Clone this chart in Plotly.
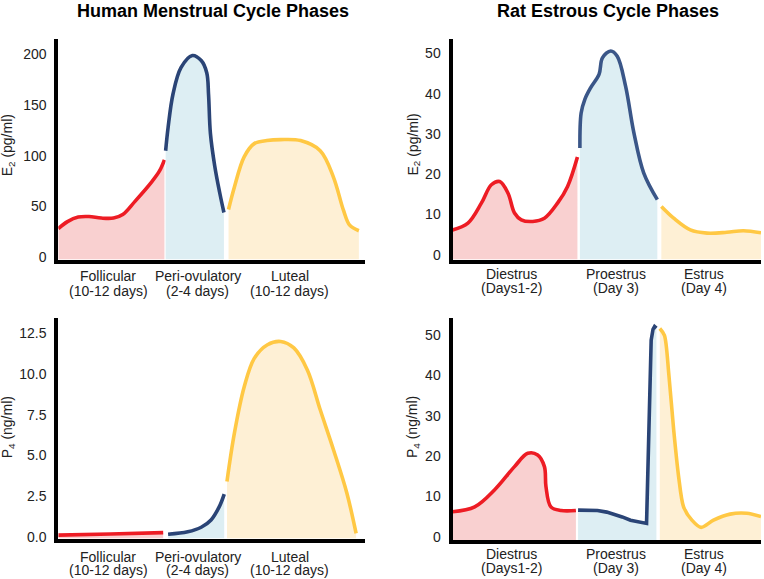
import plotly.graph_objects as go

# x values are position along the cycle, in % of the panel width
# human E2 (pg/ml)
hum_e2_fol_x = [0, 3, 6.5, 10, 14, 18, 21, 25, 30.4, 33, 34.6]
hum_e2_fol_y = [28, 35, 39.5, 40, 38.5, 38.5, 42, 55, 74, 85, 96]
hum_e2_peri_x = [35, 35.8, 37.4, 40, 43.7, 46.6, 48.4, 49.0, 49.6, 51.0, 52.6, 54.0]
hum_e2_peri_y = [105, 128, 161, 187, 199, 194, 182, 160, 122, 90, 64, 44]
hum_e2_lut_x = [55.5, 57.4, 60.6, 63.9, 68, 72.5, 79, 85.4, 89.7, 93, 95, 98]
hum_e2_lut_y = [47, 69, 99, 112, 115, 116, 115, 105, 79, 46, 31.5, 26]

# human P4 (ng/ml)
hum_p4_fol_x = [0, 17, 34.2]
hum_p4_fol_y = [0.1, 0.17, 0.25]
hum_p4_peri_x = [35.8, 42.2, 46.6, 49.8, 52.5, 54.1]
hum_p4_peri_y = [0.15, 0.3, 0.58, 1.03, 1.85, 2.62]
hum_p4_lut_x = [55, 57.4, 60.6, 63.9, 68.2, 72.5, 76.8, 81.2, 85.4, 89.8, 94.1, 97.1]
hum_p4_lut_y = [3.4, 6.35, 9.2, 10.96, 11.8, 12.0, 11.6, 10.25, 7.8, 5.3, 2.67, 0.2]

# rat E2 (pg/ml)
rat_e2_di_x = [0, 5, 9.4, 12.6, 15.3, 18, 20.1, 22.3, 26, 29.8, 34.1, 37.3, 40.5]
rat_e2_di_y = [6.2, 7.9, 12.9, 17.4, 18.2, 15.3, 10.4, 8.7, 8.3, 9.1, 12.9, 17, 24.3]
rat_e2_pro_x = [41.3, 41.7, 42.9, 44.8, 47.5, 48.6, 51.3, 53.4, 56.1, 58.8, 62, 66.4]
rat_e2_pro_y = [26.5, 35.2, 38.6, 41.5, 44.8, 48.9, 50.6, 49.3, 41.9, 30.3, 20.3, 13.7]
rat_e2_est_x = [67.7, 71.7, 77.1, 82.5, 88.9, 94.3, 100]
rat_e2_est_y = [12, 9.1, 6.2, 5.4, 5.6, 6, 5.5]

# rat P4 (ng/ml)
rat_p4_di_x = [0, 7.2, 13.6, 20.1, 24.4, 27.6, 29.8, 30.3, 31.9, 35.2, 40]
rat_p4_di_y = [6.2, 7.4, 11.6, 17.4, 20.7, 20.3, 17.4, 12.4, 7.4, 6.5, 6.5]
rat_p4_pro_x = [40.7, 44, 47, 50, 52.4, 55, 57.7, 60.3, 62.9, 64.4, 65.0, 65.5, 66.1]
rat_p4_pro_y = [6.6, 6.65, 6.5, 6.1, 5.6, 4.9, 4.1, 3.7, 3.3, 48.8, 51.5, 52.2, 51.8]
rat_p4_est_x = [67.2, 68.7, 70.1, 71.7, 73.3, 74.9, 77.6, 80.6, 84.6, 90, 95.4, 100]
rat_p4_est_y = [51.7, 50, 40.5, 26.5, 14.9, 7.4, 4.1, 2.3, 4.1, 5.6, 5.8, 5]

# phase labels and where they sit on the x axis
hum_phases = ["Follicular", "Peri-ovulatory", "Luteal"]
hum_days = ["(10-12 days)", "(2-4 days)", "(10-12 days)"]
hum_label_x = [16.3, 45.5, 75.5]
rat_phases = ["Diestrus", "Proestrus", "Estrus"]
rat_days = ["(Days1-2)", "(Day 3)", "(Day 4)"]
rat_label_x = [19, 53, 81.5]

# y ranges / ticks
hum_e2_range = [-2.5, 215.8]
hum_e2_ticks = [0, 50, 100, 150, 200]
hum_p4_range = [-0.11, 13.44]
hum_p4_ticks = [0, 2.5, 5, 7.5, 10, 12.5]
rat_e2_range = [-1.17, 53.7]
rat_p4_range = [-0.9, 54.3]
rat_ticks = [0, 10, 20, 30, 40, 50]

RED, RED_FILL = "#ED1C24", "#F9D0D0"
BLUE, BLUE_FILL = "#2A4476", "#DDEEF3"
YEL, YEL_FILL = "#FFC844", "#FEF0D5"
FONT = "Liberation Sans, Arial, sans-serif"

W, H = 764, 579


def px(x):
    return x / W


def py(y):
    return 1 - y / H


fig = go.Figure()


def add_phase(x, y, col, fcol, ax, ymin, shape="spline", smooth=1.0):
    # invisible baseline at the bottom of the axis, then the curve filled down to it
    fig.add_trace(go.Scatter(x=[x[0], x[-1]], y=[ymin, ymin], mode="lines",
                             line=dict(width=0), hoverinfo="skip",
                             xaxis="x" + ax, yaxis="y" + ax))
    ln = dict(color=col, width=3.6, shape=shape)
    if shape == "spline":
        ln["smoothing"] = smooth
    fig.add_trace(go.Scatter(x=x, y=y, mode="lines", line=ln,
                             fill="tonexty", fillcolor=fcol,
                             xaxis="x" + ax, yaxis="y" + ax))


add_phase(hum_e2_fol_x, hum_e2_fol_y, RED, RED_FILL, "", hum_e2_range[0])
add_phase(hum_e2_peri_x, hum_e2_peri_y, BLUE, BLUE_FILL, "", hum_e2_range[0])
add_phase(hum_e2_lut_x, hum_e2_lut_y, YEL, YEL_FILL, "", hum_e2_range[0])

add_phase(rat_e2_di_x, rat_e2_di_y, RED, RED_FILL, "2", rat_e2_range[0])
add_phase(rat_e2_pro_x, rat_e2_pro_y, "#3A5688", BLUE_FILL, "2", rat_e2_range[0])
add_phase(rat_e2_est_x, rat_e2_est_y, YEL, YEL_FILL, "2", rat_e2_range[0])

add_phase(hum_p4_fol_x, hum_p4_fol_y, RED, RED_FILL, "3", hum_p4_range[0])
add_phase(hum_p4_peri_x, hum_p4_peri_y, BLUE, BLUE_FILL, "3", hum_p4_range[0])
add_phase(hum_p4_lut_x, hum_p4_lut_y, YEL, YEL_FILL, "3", hum_p4_range[0])

add_phase(rat_p4_di_x, rat_p4_di_y, RED, RED_FILL, "4", rat_p4_range[0])
add_phase(rat_p4_pro_x, rat_p4_pro_y, BLUE, BLUE_FILL, "4", rat_p4_range[0], shape="linear")
add_phase(rat_p4_est_x, rat_p4_est_y, YEL, YEL_FILL, "4", rat_p4_range[0], smooth=0.8)

left_dom = [px(58.3), px(365)]
right_dom = [px(452.5), px(761)]
top_dom = [py(259.6), py(38.5)]


def xax(dom, anchor):
    return dict(domain=dom, range=[0, 100], anchor=anchor, showline=True,
                linewidth=4, linecolor="black", showgrid=False, zeroline=False,
                showticklabels=False, ticks="", fixedrange=True, automargin=False)


def yax(dom, rng, ticks, anchor, fmt=None):
    d = dict(domain=dom, range=rng, anchor=anchor, showline=True, linewidth=4,
             linecolor="black", showgrid=False, zeroline=False, ticks="",
             tickvals=ticks, ticklabelstandoff=5, automargin=False, fixedrange=True,
             tickfont=dict(size=14, color="#222", family=FONT))
    if fmt:
        d["tickformat"] = fmt
    return d


fig.update_layout(
    width=W, height=H, autosize=False,
    margin=dict(l=0, r=0, t=0, b=0, pad=0),
    paper_bgcolor="white", plot_bgcolor="white",
    showlegend=False,
    font=dict(family=FONT, size=14, color="#222"),
    xaxis=xax(left_dom, "y"),
    yaxis=yax(top_dom, hum_e2_range, hum_e2_ticks, "x"),
    xaxis2=xax(right_dom, "y2"),
    yaxis2=yax(top_dom, rat_e2_range, rat_ticks, "x2"),
    xaxis3=xax(left_dom, "y3"),
    yaxis3=yax([py(538.5), py(318)], hum_p4_range, hum_p4_ticks, "x3", ".1f"),
    xaxis4=xax(right_dom, "y4"),
    yaxis4=yax([py(540.3), py(318)], rat_p4_range, rat_ticks, "x4"),
)

ann = []
# panel titles
for xc, t in [(213, "Human Menstrual Cycle Phases"), (608, "Rat Estrous Cycle Phases")]:
    ann.append(dict(text="<b>" + t + "</b>", x=px(xc), y=py(11), xref="paper", yref="paper",
                    xanchor="center", yanchor="middle", showarrow=False,
                    font=dict(size=18, color="black")))

# y axis titles
for xp, yp, t in [(8.3, 145, "E<sub>2</sub> (pg/ml)"), (413.5, 145, "E<sub>2</sub> (pg/ml)"),
                  (8.3, 427, "P<sub>4</sub> (ng/ml)"), (413, 427, "P<sub>4</sub> (ng/ml)")]:
    ann.append(dict(text=t, x=px(xp), y=py(yp), xref="paper", yref="paper",
                    xanchor="center", yanchor="middle", textangle=-90,
                    showarrow=False, font=dict(size=14, color="#222")))

# phase labels under each x axis (two lines: name, duration)
for ax, names, days, lx, s1, s2 in [("x", hum_phases, hum_days, hum_label_x, -16.5, -31.5),
                                    ("x3", hum_phases, hum_days, hum_label_x, -18, -31.5),
                                    ("x2", rat_phases, rat_days, rat_label_x, -14.6, -28.5),
                                    ("x4", rat_phases, rat_days, rat_label_x, -14, -28)]:
    yref = "y" + ax[1:] + " domain"
    for n, d, xv in zip(names, days, lx):
        ann.append(dict(text=n, x=xv, xref=ax, y=0, yref=yref, yshift=s1,
                        xanchor="center", yanchor="middle", showarrow=False,
                        font=dict(size=14, color="#222")))
        ann.append(dict(text=d, x=xv, xref=ax, y=0, yref=yref, yshift=s2,
                        xanchor="center", yanchor="middle", showarrow=False,
                        font=dict(size=14, color="#222")))

fig.update_layout(annotations=ann)
# drop the default 8px page margin so the figure fills the window
fig.write_html("out.html", config={"displayModeBar": False},
               post_script="document.body.style.margin='0';")
